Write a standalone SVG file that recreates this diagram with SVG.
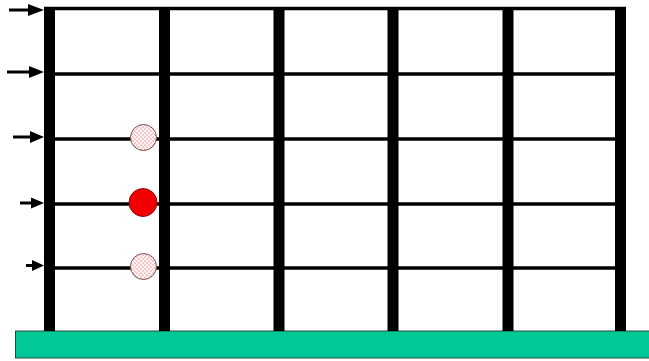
<svg xmlns="http://www.w3.org/2000/svg" width="649" height="361" viewBox="0 0 649 361">
<style>
.col{fill:#000}
.beam{stroke:#000;stroke-width:3.5}
.arr{stroke:#000;stroke-width:3;fill:none}
.ah{fill:#000}
.dot{fill:url(#dots);stroke:#7a4a4a;stroke-width:1}
</style>
<defs>
<pattern id="dots" width="4" height="4" patternUnits="userSpaceOnUse">
<rect width="4" height="4" fill="#fbf3f3"/>
<circle cx="1" cy="1" r="0.6" fill="#d84848"/>
<circle cx="3" cy="3" r="0.6" fill="#d84848"/>
</pattern>
</defs>
<rect width="649" height="361" fill="#fff"/>
<g id="ground"><rect x="15.5" y="331" width="640" height="27" fill="#00c896" stroke="#2a4a3a" stroke-width="1"/></g>
<g id="beams">
<line class="beam" x1="44" y1="8.5" x2="626" y2="8.5"/>
<line class="beam" x1="44" y1="74" x2="626" y2="74"/>
<line class="beam" x1="44" y1="139" x2="626" y2="139"/>
<line class="beam" x1="44" y1="204" x2="626" y2="204"/>
<line class="beam" x1="44" y1="268" x2="626" y2="268"/>
</g>
<g id="columns">
<rect class="col" x="44" y="7" width="11" height="324"/>
<rect class="col" x="159" y="7" width="11" height="324"/>
<rect class="col" x="273.5" y="7" width="11" height="324"/>
<rect class="col" x="387.5" y="7" width="11" height="324"/>
<rect class="col" x="502.5" y="7" width="11" height="324"/>
<rect class="col" x="615" y="7" width="11" height="324"/>
</g>
<g id="arrows">
<line class="arr" x1="9" y1="10" x2="32" y2="10"/><polygon class="ah" points="28,4 44,10 28,16"/>
<line class="arr" x1="7" y1="72" x2="32" y2="72"/><polygon class="ah" points="29,66 44,72 29,78"/>
<line class="arr" x1="13" y1="137" x2="32" y2="137"/><polygon class="ah" points="30,131 44,137 30,143"/>
<line class="arr" x1="20" y1="203" x2="32" y2="203"/><polygon class="ah" points="31,197.5 44,203 31,208.5"/>
<line class="arr" x1="26" y1="265.5" x2="33" y2="265.5"/><polygon class="ah" points="32,260 44,265.5 32,271"/>
</g>
<g id="masses">
<circle class="dot" cx="143.5" cy="137.5" r="13"/>
<circle cx="143" cy="202.5" r="14" fill="#f00000" stroke="#8a1010" stroke-width="1"/>
<circle class="dot" cx="143.5" cy="266.5" r="13"/>
</g>
</svg>
